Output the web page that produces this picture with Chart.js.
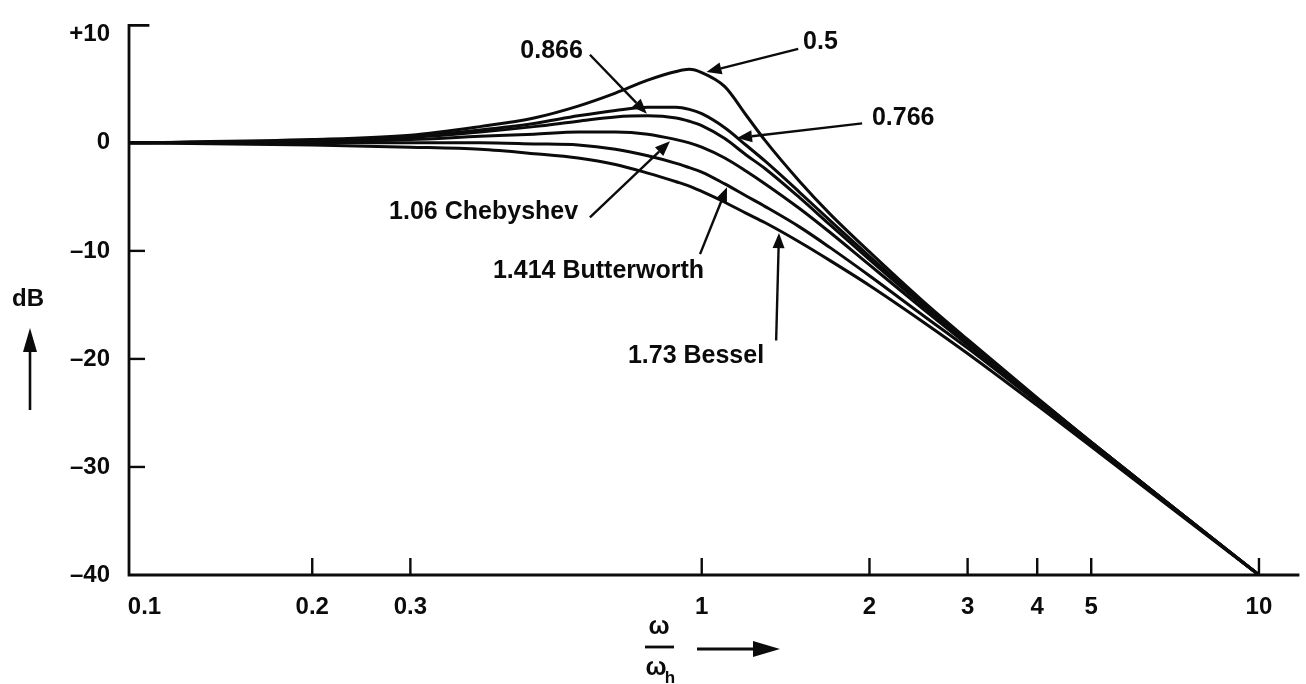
<!DOCTYPE html>
<html>
<head>
<meta charset="utf-8">
<script src="https://cdn.jsdelivr.net/npm/chart.js@4.4.1/dist/chart.umd.min.js"></script>
<style>
  html, body { margin: 0; padding: 0; background: #ffffff; }
  #wrap { width: 1306px; height: 684px; position: relative; }
</style>
</head>
<body>
<div id="wrap"><canvas id="response"></canvas></div>
<script>
// Normalised frequency ω/ωh at which the responses are sampled
const omega = [0.094, 0.2, 0.3, 0.4, 0.5, 0.6, 0.7, 0.8, 0.9, 0.95, 1.0, 1.1, 1.2, 1.3, 1.5, 1.7, 2, 2.5, 3, 4, 5, 7, 10];

// Gain in dB for each damping factor
const gainD050  = [0.0, 0.3, 0.7, 1.5, 2.3, 3.4, 4.6, 5.8, 6.6, 6.8, 6.5, 5.2, 2.6, 0.2, -3.6, -6.6, -10.1, -14.7, -18.2, -23.6, -27.7, -33.7, -40];
const gainD0766 = [0.0, 0.2, 0.6, 1.2, 1.8, 2.5, 3.0, 3.3, 3.3, 3.1, 2.7, 1.4, -0.2, -1.7, -4.6, -7.2, -10.5, -14.9, -18.4, -23.7, -27.7, -33.7, -40];
const gainD0866 = [0.0, 0.2, 0.5, 1.0, 1.5, 2.0, 2.4, 2.5, 2.3, 2.0, 1.6, 0.4, -1.1, -2.4, -5.1, -7.6, -10.8, -15.1, -18.5, -23.7, -27.7, -33.7, -40];
const gainD106  = [0.0, 0.1, 0.3, 0.6, 0.8, 1.0, 1.0, 0.8, 0.3, 0.0, -0.4, -1.4, -2.6, -3.8, -6.1, -8.3, -11.3, -15.4, -18.7, -23.9, -27.8, -33.7, -40];
const gainD1414 = [0.0, 0.0, 0.0, 0.0, -0.1, -0.2, -0.6, -1.2, -1.9, -2.3, -2.7, -3.8, -4.9, -5.9, -7.8, -9.7, -12.3, -16.0, -19.0, -24.0, -27.9, -33.8, -40];
const gainD173  = [0.0, -0.2, -0.4, -0.6, -1.0, -1.4, -2.0, -2.8, -3.6, -4.0, -4.5, -5.5, -6.5, -7.4, -9.2, -10.9, -13.2, -16.6, -19.5, -24.3, -28.1, -33.9, -40];

const seriesNames = ['0.5', '0.766', '0.866', '1.06', '1.414', '1.73'];
const seriesGains = [gainD050, gainD0766, gainD0866, gainD106, gainD1414, gainD173];

// Axis ticks
const xTicks = [0.1, 0.2, 0.3, 1, 2, 3, 4, 5, 10];
const xTickLabels = ['0.1', '0.2', '0.3', '1', '2', '3', '4', '5', '10'];
const yTicks = [10, 0, -10, -20, -30, -40];
const yTickLabels = ['+10', '0', '\u201310', '\u201320', '\u201330', '\u201340'];

// Curve call-outs: label anchor, arrow tail and arrow tip, all in (ω/ωh, dB)
const calloutText  = ['0.5', '0.766', '0.866', '1.06 Chebyshev', '1.414 Butterworth', '1.73 Bessel'];
const calloutAlign = ['left', 'left', 'right', 'right', 'left', 'left'];
const calloutAt    = [[1.52, 9.35], [2.02, 2.25], [0.612, 8.45], [0.60, -6.45], [0.422, -11.9], [0.737, -19.7]];
const calloutFrom  = [[1.49, 8.7], [1.94, 1.8], [0.63, 8.15], [0.63, -6.9], [0.993, -10.3], [1.36, -18.3]];
const calloutTo    = [[1.02, 6.55], [1.157, 0.45], [0.797, 2.7], [0.877, 0.15], [1.11, -4.1], [1.376, -8.35]];

const INK = '#0b0b0b';
const FONT = '"Liberation Sans", Arial, Helvetica, sans-serif';

function arrow(ctx, x1, y1, x2, y2, headLen, headHalf) {
  const ang = Math.atan2(y2 - y1, x2 - x1);
  const bx = x2 - headLen * Math.cos(ang);
  const by = y2 - headLen * Math.sin(ang);
  ctx.beginPath();
  ctx.moveTo(x1, y1);
  ctx.lineTo(bx, by);
  ctx.stroke();
  ctx.beginPath();
  ctx.moveTo(x2, y2);
  ctx.lineTo(bx + headHalf * Math.sin(ang), by - headHalf * Math.cos(ang));
  ctx.lineTo(bx - headHalf * Math.sin(ang), by + headHalf * Math.cos(ang));
  ctx.closePath();
  ctx.fill();
}

function seg(ctx, x1, y1, x2, y2) {
  ctx.beginPath();
  ctx.moveTo(x1, y1);
  ctx.lineTo(x2, y2);
  ctx.stroke();
}

// Axes with inward tick marks, call-outs and axis titles
const figureMarks = {
  id: 'figureMarks',
  afterDatasetsDraw(chart) {
    const { ctx, chartArea: a, scales: { x, y } } = chart;
    ctx.save();
    ctx.strokeStyle = INK;
    ctx.fillStyle = INK;
    ctx.lineCap = 'square';

    // axis lines
    ctx.lineWidth = 2.8;
    ctx.beginPath();
    ctx.moveTo(a.left + 19, a.top);
    ctx.lineTo(a.left, a.top);
    ctx.lineTo(a.left, a.bottom);
    ctx.lineTo(a.right, a.bottom);
    ctx.stroke();

    // inward tick marks
    ctx.lineWidth = 2.4;
    ctx.lineCap = 'butt';
    yTicks.forEach(v => {
      if (v === 10 || v === 0 || v === -40) return;
      const py = y.getPixelForValue(v);
      seg(ctx, a.left, py, a.left + 16, py);
    });
    xTicks.forEach(v => {
      if (v === 0.1) return;
      const px = x.getPixelForValue(v);
      seg(ctx, px, a.bottom, px, a.bottom - 17);
    });

    // call-outs
    ctx.lineWidth = 2.4;
    ctx.font = 'bold 25px ' + FONT;
    ctx.textBaseline = 'middle';
    calloutText.forEach((t, i) => {
      const tx = x.getPixelForValue(calloutAt[i][0]);
      const ty = y.getPixelForValue(calloutAt[i][1]);
      ctx.textAlign = calloutAlign[i];
      ctx.fillText(t, tx, ty);
      arrow(ctx,
        x.getPixelForValue(calloutFrom[i][0]), y.getPixelForValue(calloutFrom[i][1]),
        x.getPixelForValue(calloutTo[i][0]), y.getPixelForValue(calloutTo[i][1]),
        15, 6);
    });

    // vertical axis title: dB with an upward arrow
    ctx.textAlign = 'center';
    ctx.font = 'bold 24px ' + FONT;
    ctx.fillText('dB', 28, 299);
    ctx.lineWidth = 2.6;
    arrow(ctx, 30, 410, 30, 328, 24, 7);

    // horizontal axis title: ω / ωh with a rightward arrow
    ctx.font = 'bold 25px ' + FONT;
    ctx.fillText('\u03C9', 659, 627);
    ctx.lineWidth = 2.8;
    seg(ctx, 645, 647, 674, 647);
    ctx.fillText('\u03C9', 656, 668);
    ctx.font = 'bold 17px ' + FONT;
    ctx.fillText('h', 670, 678);
    ctx.lineWidth = 2.8;
    arrow(ctx, 697, 649, 780, 649, 27, 8);

    ctx.restore();
  }
};

new Chart(document.getElementById('response'), {
  type: 'line',
  data: {
    labels: omega,
    datasets: seriesGains.map((g, i) => ({
      label: seriesNames[i],
      data: omega.map((w, k) => ({ x: w, y: g[k] })),
      borderColor: INK,
      borderWidth: 3,
      pointRadius: 0,
      fill: false,
      cubicInterpolationMode: 'monotone'
    }))
  },
  options: {
    responsive: true,
    maintainAspectRatio: false,
    animation: false,
    devicePixelRatio: 1,
    layout: { padding: { top: 18, right: 8, bottom: 59, left: 0 } },
    plugins: { legend: { display: false }, tooltip: { enabled: false }, title: { display: false } },
    scales: {
      x: {
        type: 'logarithmic',
        min: 0.0938,
        max: 11.75,
        grid: { display: false },
        border: { display: false },
        afterBuildTicks: s => { s.ticks = xTicks.map(v => ({ value: v })); },
        afterFit: s => { s.height = 50; },
        ticks: {
          autoSkip: false,
          maxRotation: 0,
          padding: 10,
          color: INK,
          font: { family: FONT, size: 24, weight: 'bold' },
          callback: v => { const i = xTicks.indexOf(v); return i >= 0 ? xTickLabels[i] : ''; }
        }
      },
      y: {
        type: 'linear',
        min: -40,
        max: 10.87,
        grid: { display: false },
        border: { display: false },
        afterBuildTicks: s => { s.ticks = yTicks.map(v => ({ value: v })); },
        afterFit: s => { s.width = 129; },
        ticks: {
          autoSkip: false,
          padding: 11,
          color: INK,
          font: { family: FONT, size: 24, weight: 'bold' },
          callback: v => { const i = yTicks.indexOf(v); return i >= 0 ? yTickLabels[i] : ''; }
        }
      }
    }
  },
  plugins: [figureMarks]
});
</script>
</body>
</html>
